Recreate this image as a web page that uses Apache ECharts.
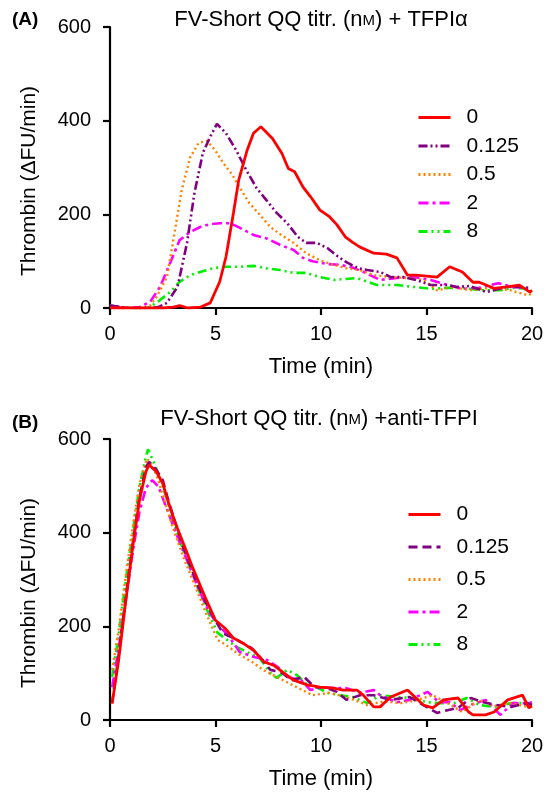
<!DOCTYPE html>
<html>
<head>
<meta charset="utf-8">
<script src="https://cdn.jsdelivr.net/npm/echarts@6/dist/echarts.min.js"></script>
<style>
html,body{margin:0;padding:0;background:#fff;}
#chart{width:550px;height:794px;}
</style>
</head>
<body>
<div id="chart"></div>
<script>
// ---------- DATA ----------
const concentrations = ['0', '0.125', '0.5', '2', '8'];
const xTicks = [0, 5, 10, 15, 20];
const yTicks = [0, 200, 400, 600];

// Panel A: FV-Short QQ titration + TFPIα  ([time (min), thrombin (ΔFU/min)])
const panelA_0 = [[0,0],[0.5,0],[1,0],[1.5,0],[2,0],[2.5,0],[3,2],[3.3,5],[3.7,0],[4.3,2],[4.75,11],[5.2,56],[5.5,110],[5.85,203],[6.1,273],[6.5,337],[6.8,373],[7.15,387],[7.7,362],[8.15,330],[8.45,298],[8.75,291],[9.15,258],[9.5,238],[9.95,209],[10.4,195],[10.75,178],[11.15,152],[11.5,140],[11.85,130],[12.5,117],[13.1,115],[13.6,107],[14.1,70],[14.5,70],[15.5,66],[16.1,88],[16.7,77],[17.2,55],[17.5,55],[18.2,42],[18.8,45],[19.4,49],[19.9,34],[20,38]];
const panelA_0125 = [[0,5],[0.5,2],[1,0],[1.5,0],[1.9,0],[2.3,2],[2.7,11],[3.2,45],[3.65,139],[4.0,245],[4.4,331],[4.74,365],[5.07,393],[5.5,373],[5.98,337],[6.45,295],[6.95,256],[7.4,231],[7.9,203],[8.4,181],[8.9,152],[9.3,139],[9.8,139],[10.3,128],[10.8,110],[11.2,98],[11.75,85],[12.2,81],[12.8,77],[13.3,66],[13.9,66],[14.5,60],[15.2,49],[16,49],[16.45,45],[17.05,47],[17.85,34],[18.8,45],[19.4,45],[19.9,43]];
const panelA_05 = [[0,5],[0.5,2],[1,0],[1.5,0],[1.9,5],[2.2,23],[2.7,66],[3.0,145],[3.4,252],[3.8,322],[4.2,352],[4.6,357],[4.98,337],[5.36,310],[5.8,284],[6.16,256],[6.6,224],[7.1,199],[7.6,173],[8.05,158],[8.7,139],[9.3,117],[9.95,102],[10.6,92],[11.2,85],[11.85,81],[12.5,70],[13.3,66],[14.1,64],[14.85,60],[15.5,38],[16.25,45],[17.05,38],[18,43],[18.95,38],[19.75,28],[20,30]];
const panelA_2 = [[0,5],[0.5,2],[1,0],[1.4,2],[1.9,13],[2.37,45],[2.85,96],[3.3,145],[3.8,162],[4.27,173],[4.74,179],[5.2,181],[5.7,181],[6.16,171],[6.8,156],[7.4,149],[8.05,135],[8.7,124],[9.15,107],[9.6,100],[10.3,94],[10.9,92],[11.4,88],[12,77],[12.8,60],[13.6,64],[14.4,66],[15.2,60],[16,49],[16.7,41],[17.5,43],[18.4,53],[19.1,45],[19.75,43]];
const panelA_8 = [[0,6],[0.5,0],[1,0],[1.5,0],[1.9,2],[2.37,17],[2.85,34],[3.3,56],[3.8,70],[4.27,77],[4.9,85],[5.5,88],[6.16,88],[6.8,90],[7.4,85],[8.05,81],[8.7,75],[9.3,75],[9.95,66],[10.6,60],[11.2,62],[11.7,64],[12.65,49],[13.6,49],[14.4,45],[15.2,41],[16,43],[16.7,43],[17.5,38],[18.5,38],[19.1,43],[19.9,41]];

// Panel B: FV-Short QQ titration + anti-TFPI
const panelB_0 = [[0.1,35],[0.4,125],[0.75,255],[1.1,378],[1.4,470],[1.7,530],[1.85,545],[2.2,530],[2.5,505],[2.8,460],[3.1,420],[3.6,363],[3.9,327],[4.5,263],[5,213],[5.45,196],[5.85,175],[6.3,164],[6.8,149],[7.3,124],[7.75,117],[8.25,100],[8.7,85],[9.35,75],[9.95,70],[10.6,68],[11.05,64],[11.7,64],[12,53],[12.5,28],[12.8,28],[13.3,49],[14.1,64],[14.85,32],[15.3,26],[15.8,43],[16.5,47],[17,17],[17.2,11],[17.8,11],[18.2,17],[18.85,43],[19.55,53],[19.85,26],[20,30]];
const panelB_0125 = [[0.1,36],[0.4,135],[0.75,263],[1.1,384],[1.4,476],[1.7,540],[1.85,551],[2.2,534],[2.5,512],[2.8,463],[3.1,421],[3.4,378],[3.75,335],[4.2,284],[4.55,250],[4.9,220],[5.35,185],[5.85,175],[6.7,154],[7.1,135],[7.6,107],[8.1,102],[8.6,85],[9.2,92],[9.7,70],[10.2,70],[10.75,60],[11.2,43],[11.85,53],[12.5,53],[13.3,43],[14.2,49],[15,28],[15.5,15],[16,21],[16.5,26],[17.1,47],[17.7,38],[18.3,32],[19,28],[19.8,36],[20,32]];
const panelB_05 = [[0.1,107],[0.4,190],[0.75,310],[1.1,420],[1.4,505],[1.75,558],[2.0,545],[2.3,510],[2.7,450],[3.1,395],[3.5,345],[4.0,290],[4.55,228],[5.1,171],[5.5,160],[6.15,139],[6.8,122],[7.25,107],[7.9,92],[8.85,70],[9.6,53],[10.4,58],[11.2,49],[12.2,32],[13,40],[13.8,36],[14.5,42],[15.3,53],[16,36],[16.7,17],[17.5,43],[18.2,30],[19,36],[19.8,28],[20,34]];
const panelB_2 = [[0.1,70],[0.4,150],[0.75,256],[1.1,365],[1.4,445],[1.7,495],[2.0,512],[2.3,498],[2.7,450],[3.2,391],[3.7,335],[4.2,280],[4.7,230],[5.2,199],[5.6,181],[6.15,145],[6.8,135],[7.45,128],[7.95,113],[8.4,92],[9.05,85],[9.5,64],[10,70],[10.6,68],[11.2,68],[11.85,58],[12.5,64],[12.8,53],[13.6,38],[14.2,43],[15.05,60],[15.6,38],[16.1,38],[16.6,21],[17.1,32],[17.8,43],[18.5,11],[19.1,36],[19.8,36],[20,38]];
const panelB_8 = [[0.1,92],[0.4,177],[0.75,299],[1.1,406],[1.4,498],[1.7,562],[1.8,578],[2.1,548],[2.5,500],[2.8,455],[3.1,410],[3.5,360],[4.0,300],[4.5,245],[5.1,186],[5.55,171],[6,156],[6.5,145],[7.1,132],[7.6,100],[7.9,90],[8.4,107],[8.85,96],[9.35,75],[9.8,70],[10.3,58],[10.9,53],[11.5,49],[12.2,36],[12.8,53],[13.6,49],[14.4,47],[15,38],[15.6,36],[16.3,36],[16.9,47],[17.5,32],[18.2,28],[19,36],[19.9,36]];

// ---------- STYLE ----------
const FONT = "'Liberation Sans', Arial, Helvetica, sans-serif";
const colors = ['#ff0000', '#800080', '#ff8000', '#ff00ff', '#00ee00'];
const dashA = ['solid', [9,3,2,3,2,3], [2,3], [10,4,3,4], [9,4,2,4,2,4]];
const dashB = ['solid', [9,5], [2,3], [10,4,3,4], [9,4,2,4,2,4]];
const widths = [2.8, 2.6, 2.4, 2.6, 2.6];

const dataA = [panelA_0, panelA_0125, panelA_05, panelA_2, panelA_8];
const dataB = [panelB_0, panelB_0125, panelB_05, panelB_2, panelB_8];

const grids = [
  {left: 110, right: 18, top: 27, height: 281},
  {left: 110, right: 18, top: 439, height: 281}
];

function xAxisCfg(i) {
  return {
    type: 'value', gridIndex: i, min: 0, max: 20, interval: 5,
    name: 'Time (min)', nameLocation: 'middle', nameGap: 48,
    nameTextStyle: {fontFamily: FONT, fontSize: 22, color: '#000'},
    axisLine: {show: true, onZero: false, lineStyle: {color: '#000', width: 2.2}},
    axisTick: {show: true, length: 7, lineStyle: {color: '#000', width: 2.2}},
    axisLabel: {fontFamily: FONT, fontSize: 20, color: '#000', margin: 16},
    splitLine: {show: false}
  };
}
function yAxisCfg(i) {
  return {
    type: 'value', gridIndex: i, min: 0, max: 600, interval: 200,
    axisLine: {show: true, lineStyle: {color: '#000', width: 2.2}},
    axisTick: {show: true, length: 7, lineStyle: {color: '#000', width: 2.2}},
    axisLabel: {fontFamily: FONT, fontSize: 20, color: '#000', margin: 19},
    splitLine: {show: false}
  };
}

const series = [];
concentrations.forEach((c, k) => {
  series.push({
    name: 'A ' + c, type: 'line', xAxisIndex: 0, yAxisIndex: 0,
    data: dataA[k], symbol: 'none', showSymbol: false, smooth: false,
    lineStyle: {color: colors[k], width: widths[k], type: dashA[k]},
    itemStyle: {color: colors[k]}, z: 10 - k, animation: false
  });
});
concentrations.forEach((c, k) => {
  series.push({
    name: 'B ' + c, type: 'line', xAxisIndex: 1, yAxisIndex: 1,
    data: dataB[k], symbol: 'none', showSymbol: false, smooth: false,
    lineStyle: {color: colors[k], width: widths[k], type: dashB[k]},
    itemStyle: {color: colors[k]}, z: 10 - k, animation: false
  });
});

function legendCfg(prefix, left, top, gap) {
  return {
    data: concentrations.map(c => prefix + ' ' + c),
    orient: 'vertical', left: left, top: top,
    itemWidth: 32, itemHeight: 14, itemGap: gap,
    formatter: n => n.slice(2),
    itemStyle: {color: 'rgba(0,0,0,0)', borderWidth: 0, opacity: 0},
    lineStyle: {width: 3},
    textStyle: {fontFamily: FONT, fontSize: 21, color: '#000', lineHeight: 20, padding: [0, 0, 0, 11]},
    selectedMode: false
  };
}

const titleRich = {
  a: {fontFamily: FONT, fontSize: 22, lineHeight: 22, verticalAlign: 'bottom', fill: '#000', color: '#000'},
  s: {fontFamily: FONT, fontSize: 15, lineHeight: 22, verticalAlign: 'bottom', padding: [0, 0, 3, 0], fill: '#000', color: '#000'}
};
const yName = 'Thrombin (ΔFU/min)';

const option = {
  backgroundColor: '#fff',
  animation: false,
  grid: grids,
  xAxis: [xAxisCfg(0), xAxisCfg(1)],
  yAxis: [yAxisCfg(0), yAxisCfg(1)],
  legend: [legendCfg('A', 412, 102, 7.5), legendCfg('B', 402, 499, 11.5)],
  series: series,
  graphic: [
    {type: 'text', left: 12, top: 10, style: {text: '(A)', font: 'bold 19px ' + FONT, fill: '#000'}},
    {type: 'text', left: 12, top: 413, style: {text: '(B)', font: 'bold 19px ' + FONT, fill: '#000'}},
    {type: 'text', x: 321, y: 9, style: {text: '{a|FV-Short QQ titr. (n}{s|M}{a|) + TFPIα}', rich: titleRich, align: 'center', verticalAlign: 'top'}},
    {type: 'text', x: 319, y: 408, style: {text: '{a|FV-Short QQ titr. (n}{s|M}{a|) +anti-TFPI}', rich: titleRich, align: 'center', verticalAlign: 'top'}},
    {type: 'text', x: 29, y: 181, rotation: Math.PI / 2, style: {text: yName, font: '21px ' + FONT, fill: '#000', align: 'center', verticalAlign: 'middle'}},
    {type: 'text', x: 29, y: 593, rotation: Math.PI / 2, style: {text: yName, font: '21px ' + FONT, fill: '#000', align: 'center', verticalAlign: 'middle'}}
  ]
};

const chart = echarts.init(document.getElementById('chart'), null, {renderer: 'canvas'});
chart.setOption(option);
</script>
</body>
</html>
